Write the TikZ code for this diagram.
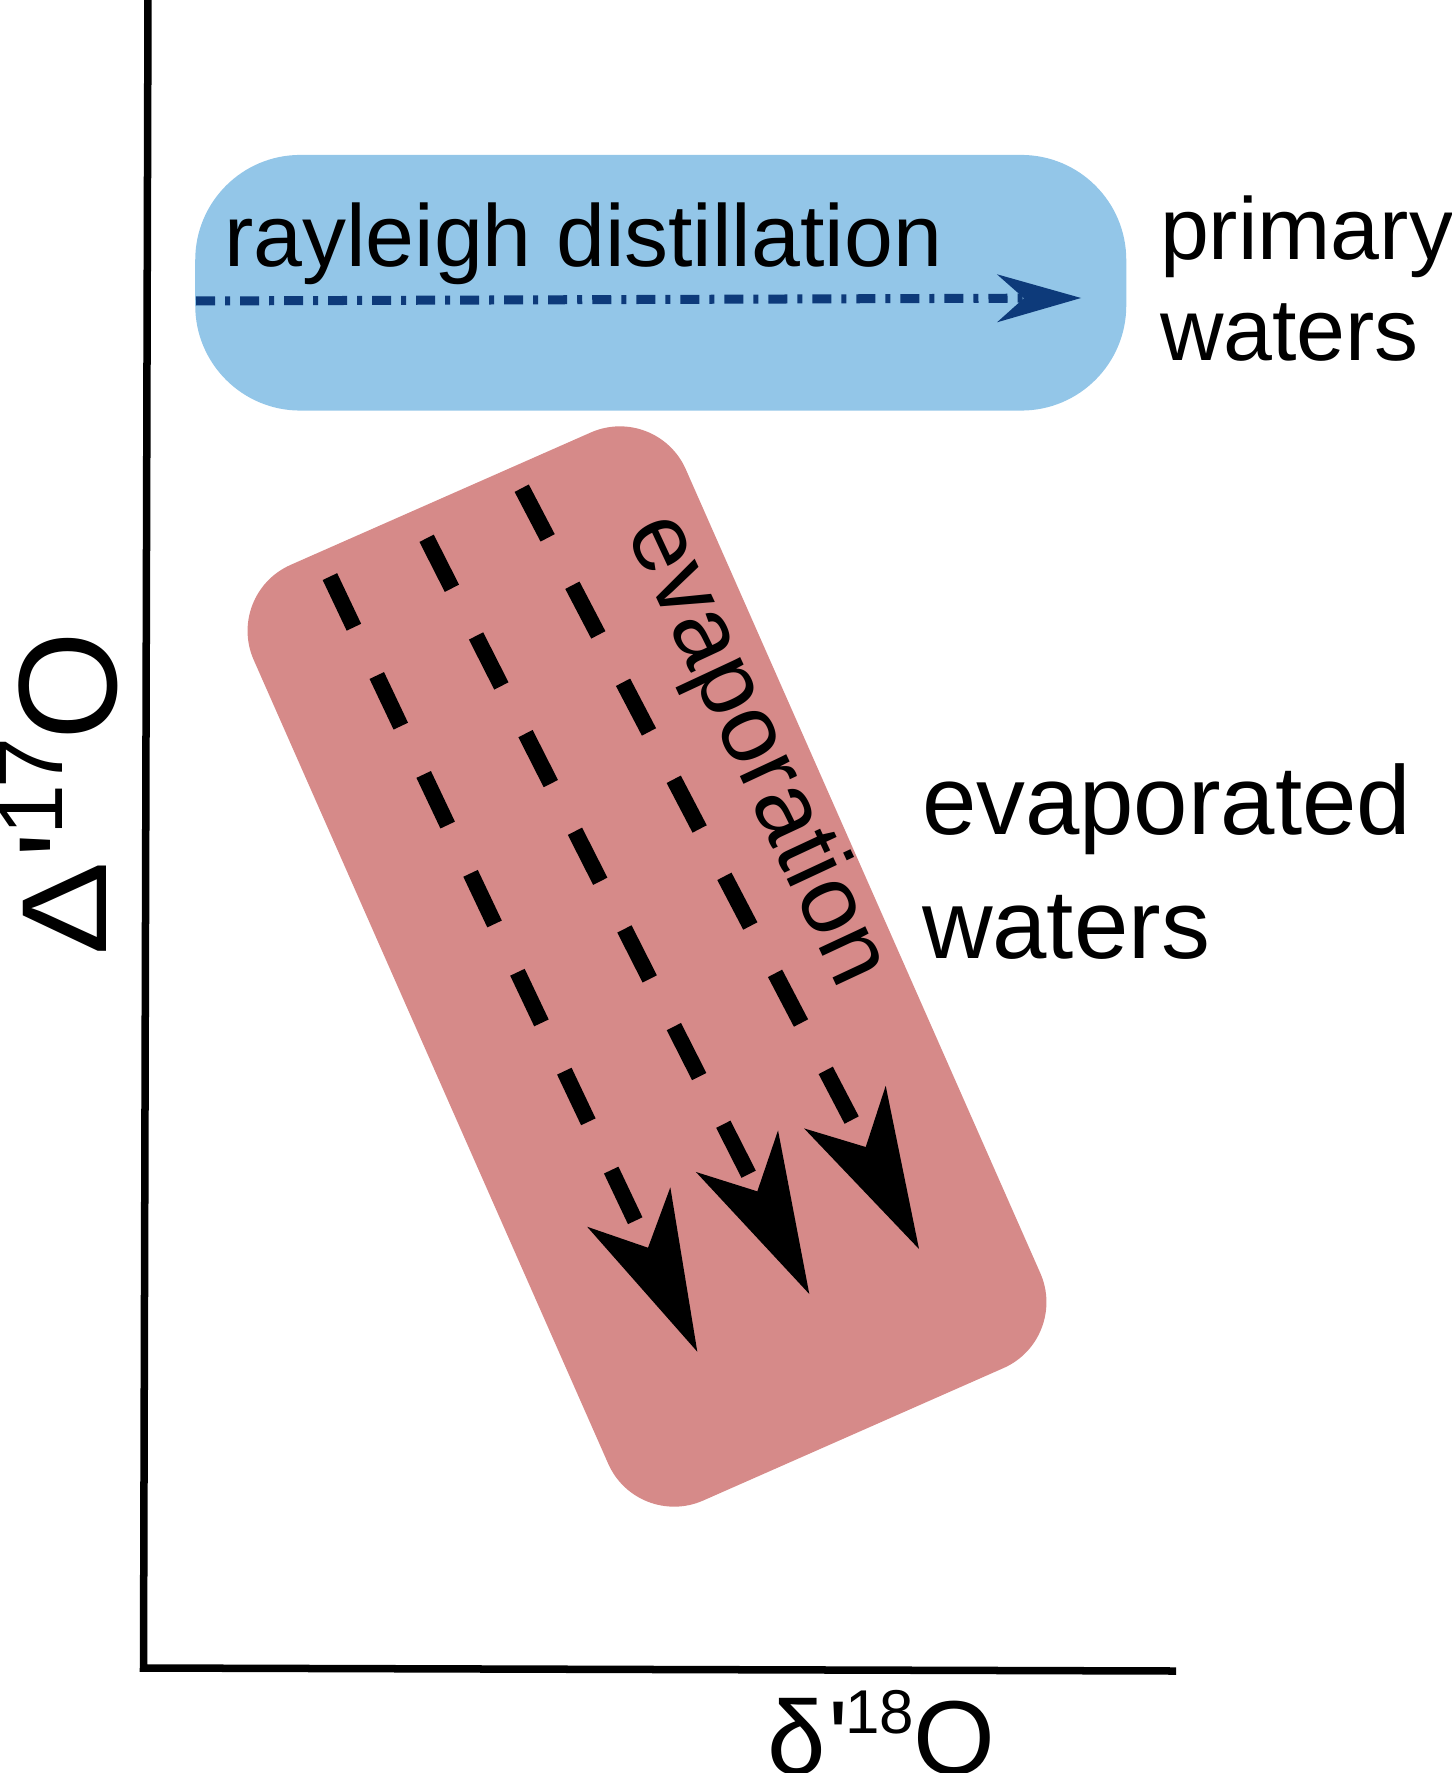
\documentclass[tikz,border=0pt]{standalone}
\usepackage{fontspec}
\setmainfont{Liberation Sans}
\usepackage{graphicx}
\usetikzlibrary{arrows.meta}
\definecolor{boxblue}{RGB}{147,198,232}
\definecolor{boxred}{RGB}{214,138,137}
\definecolor{arrowblue}{RGB}{13,58,122}
\newcommand{\isosup}[3]{\raisebox{#3}{\fontsize{#2}{#2}\selectfont #1}}
\begin{document}
\begin{tikzpicture}[x=0.01cm,y=-0.01cm,
  txt/.style={inner sep=0pt, outer sep=0pt, anchor=base west, text=black},
  midfont/.style={font=\fontsize{25pt}{29pt}\selectfont},
  bigfont/.style={font=\fontsize{27.8pt}{32pt}\selectfont},
  evapline/.style={line width=0.16cm, dash pattern=on 0.56cm off 0.534cm,
    -{Stealth[length=1.6cm, width=0.92cm, inset=0.45cm, line width=0pt]}},
  distline/.style={arrowblue, line width=0.09cm,
    dash pattern=on 0.19cm off 0.1cm on 0.05cm off 0.1cm,
    -{Stealth[length=0.84cm, width=0.48cm, inset=0.27cm, line width=0pt]}},
  axisline/.style={line width=0.075cm, black}]
\useasboundingbox (0,0) rectangle (1451,1773);

% boxes
\node[fill=boxblue, draw=none, rounded corners=1.05cm, minimum width=9.305cm,
  minimum height=2.555cm, inner sep=0pt] (primbox) at (660.75,282.75) {};
\node[fill=boxred, draw=none, rounded corners=0.72cm, minimum width=10.22cm,
  minimum height=4.72cm, inner sep=0pt, rotate=-66.2] (evapbox) at (647,966.5) {};

% rayleigh distillation arrow
\coordinate (b1) at (196,301);
\coordinate (b2) at (1081,298);
\draw[distline] (b1) -- (b2);
\node[txt, midfont] (rd) at (224,266.7) {rayleigh distillation};

% evaporation arrows
\coordinate (s1) at (329.9,576.6);
\coordinate (t1) at (697.3,1351.7);
\coordinate (s2) at (426.6,538.3);
\coordinate (t2) at (809.3,1294);
\coordinate (s3) at (521.7,488.2);
\coordinate (t3) at (919,1249);
\draw[evapline] (s1) -- (t1);
\draw[evapline] (s2) -- (t2);
\draw[evapline] (s3) -- (t3);
\node[txt, font=\fontsize{27.6pt}{32pt}\selectfont, rotate=-65] (ev) at (625.3,531.3) {evaporation};

% side labels
\node[txt, midfont] (pw1) at (1160,259.3) {primary};
\node[txt, midfont] (pw2) at (1160,360.6) {waters};
\node[txt, bigfont] (ew1) at (922,834.7) {evaporated};
\node[txt, bigfont] (ew2) at (922,958.7) {waters};

% axes
\coordinate (ytop) at (148,-10);
\coordinate (orig) at (143.5,1668);
\coordinate (xend) at (1176,1671);
\draw[axisline] (ytop) -- (orig) -- (xend);

% axis labels
\node[txt, font=\fontsize{39.8pt}{44pt}\selectfont, rotate=90] (ylab) at (116.6,955.7)
  {\raisebox{2.85pt}{\fontsize{34.4pt}{38pt}\selectfont\scalebox{1.16}[1]{Δ}}\kern1pt\textquotesingle\kern-1.2pt\isosup{1\kern-1pt 7}{26pt}{15.5pt}\kern-0.8pt O};
\node[txt, font=\fontsize{29.9pt}{34pt}\selectfont] (xlab) at (767.5,1774.8)
  {δ\kern0.8pt\textquotesingle\kern-1.1pt\isosup{18}{17.6pt}{11.8pt}O};
\end{tikzpicture}
\end{document}
